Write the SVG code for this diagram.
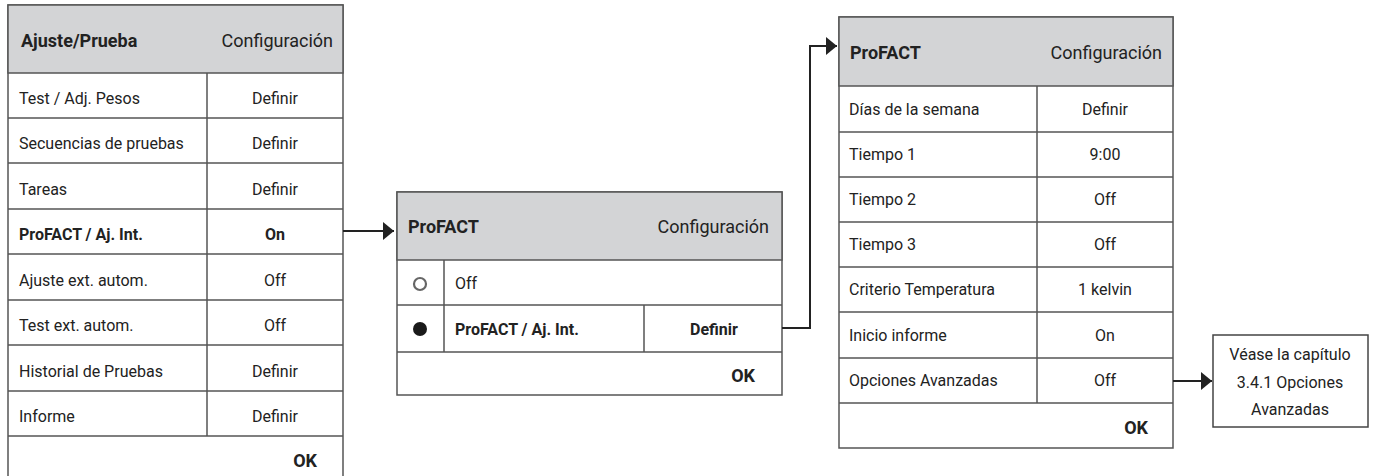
<svg xmlns="http://www.w3.org/2000/svg" width="1373" height="476" viewBox="0 0 1373 476">
<style>
text{font-family:Roboto,"Liberation Sans",sans-serif;fill:#222;}
.h{font-size:18px;}
.b{font-weight:bold;}
.t{font-size:16px;}
.c{text-anchor:middle;}
.r{text-anchor:end;}
.hdr{fill:#d3d4d6;stroke:#555;stroke-width:1.5;}
.box{fill:#fff;stroke:#555;stroke-width:1.5;}
.ln{stroke:#555;stroke-width:1.5;fill:none;}
.con{stroke:#222;stroke-width:2;fill:none;}
</style>
<defs>
<marker id="arr" markerWidth="11" markerHeight="18" refX="11" refY="9" orient="auto" markerUnits="userSpaceOnUse">
<path d="M0,0 L11,9 L0,18 Z" fill="#222"/>
</marker>
</defs>

<g id="panel-ajuste">
<rect class="box" x="8" y="5" width="335" height="480"/>
<rect class="hdr" x="8" y="5" width="335" height="68"/>
<path class="ln" d="M8,118H343M8,163H343M8,209H343M8,254H343M8,300H343M8,345H343M8,391H343M8,436H343M207,73V436"/>
<text class="h b" x="21" y="47">Ajuste/Prueba</text>
<text class="h r" x="333" y="47">Configuración</text>
<text class="t" x="19" y="104">Test / Adj. Pesos</text>
<text class="t c" x="275" y="104">Definir</text>
<text class="t" x="19" y="149">Secuencias de pruebas</text>
<text class="t c" x="275" y="149">Definir</text>
<text class="t" x="19" y="195">Tareas</text>
<text class="t c" x="275" y="195">Definir</text>
<text class="t b" x="19" y="240">ProFACT / Aj. Int.</text>
<text class="t b c" x="275" y="240">On</text>
<text class="t" x="19" y="286">Ajuste ext. autom.</text>
<text class="t c" x="275" y="286">Off</text>
<text class="t" x="19" y="331">Test ext. autom.</text>
<text class="t c" x="275" y="331">Off</text>
<text class="t" x="19" y="377">Historial de Pruebas</text>
<text class="t c" x="275" y="377">Definir</text>
<text class="t" x="19" y="422">Informe</text>
<text class="t c" x="275" y="422">Definir</text>
<text class="h b r" x="317" y="467">OK</text>
</g>

<g id="panel-profact-1">
<rect class="box" x="397" y="192" width="385" height="203"/>
<rect class="hdr" x="397" y="192" width="385" height="68"/>
<path class="ln" d="M397,305H782M397,352H782M444,260V352M644,305V352"/>
<text class="h b" x="408" y="233">ProFACT</text>
<text class="h r" x="769" y="233">Configuración</text>
<circle cx="420" cy="284" r="6" fill="#fff" stroke="#666" stroke-width="2.2"/>
<text class="t" x="455" y="289">Off</text>
<circle cx="420" cy="329" r="7" fill="#1a1a1a"/>
<text class="t b" x="455" y="335">ProFACT / Aj. Int.</text>
<text class="t b c" x="714" y="335">Definir</text>
<text class="h b r" x="755" y="382">OK</text>
</g>

<g id="panel-profact-2">
<rect class="box" x="839" y="17" width="334" height="431"/>
<rect class="hdr" x="839" y="17" width="334" height="69"/>
<path class="ln" d="M839,132H1173M839,177H1173M839,222H1173M839,267H1173M839,312H1173M839,358H1173M839,403H1173M1037,86V403"/>
<text class="h b" x="850" y="59">ProFACT</text>
<text class="h r" x="1162" y="59">Configuración</text>
<text class="t" x="849" y="115">Días de la semana</text>
<text class="t c" x="1105" y="115">Definir</text>
<text class="t" x="849" y="160">Tiempo 1</text>
<text class="t c" x="1105" y="160">9:00</text>
<text class="t" x="849" y="205">Tiempo 2</text>
<text class="t c" x="1105" y="205">Off</text>
<text class="t" x="849" y="250">Tiempo 3</text>
<text class="t c" x="1105" y="250">Off</text>
<text class="t" x="849" y="295">Criterio Temperatura</text>
<text class="t c" x="1105" y="295">1 kelvin</text>
<text class="t" x="849" y="341">Inicio informe</text>
<text class="t c" x="1105" y="341">On</text>
<text class="t" x="849" y="386">Opciones Avanzadas</text>
<text class="t c" x="1105" y="386">Off</text>
<text class="h b r" x="1148" y="434">OK</text>
</g>

<g id="note">
<rect x="1213" y="335" width="155" height="92" fill="#fff" stroke="#444" stroke-width="1.5"/>
<text class="t c" x="1290" y="360">Véase la capítulo</text>
<text class="t c" x="1290" y="388">3.4.1 Opciones</text>
<text class="t c" x="1290" y="415">Avanzadas</text>
</g>

<g id="connectors">
<path class="con" d="M343,231H394" marker-end="url(#arr)"/>
<path class="con" d="M782,328H810V46H837" marker-end="url(#arr)"/>
<path class="con" d="M1173,381H1212" marker-end="url(#arr)"/>
</g>
</svg>
